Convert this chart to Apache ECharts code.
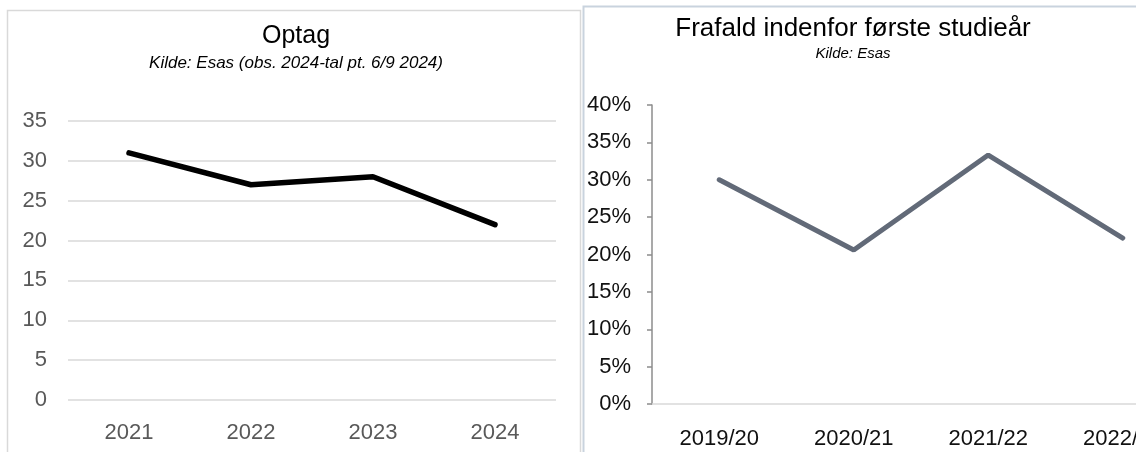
<!DOCTYPE html>
<html>
<head>
<meta charset="utf-8">
<script src="https://cdn.jsdelivr.net/npm/echarts@6/dist/echarts.min.js"></script>
<style>
  html, body { margin: 0; padding: 0; background: #fff; overflow: hidden; }
  /* wider than the window: the right chart is cut off at the edge, as in the source */
  #chart { width: 1240px; height: 452px; }
</style>
</head>
<body>
<div id="chart"></div>
<script>
const optagYears = ['2021', '2022', '2023', '2024']
const optagValues = [31, 27, 28, 22]
const frafaldYears = ['2019/20', '2020/21', '2021/22', '2022/23']
const frafaldValues = [30.0, 20.6, 33.3, 22.2]

const font = 'Liberation Sans, Arial, sans-serif'
const chart = echarts.init(document.getElementById('chart'))

const option = {
  animation: false,
  backgroundColor: '#fff',
  title: [
    {
      text: 'Optag',
      subtext: 'Kilde: Esas (obs. 2024-tal pt. 6/9 2024)',
      left: 296,
      top: 22,
      textAlign: 'center',
      itemGap: 4,
      padding: 0,
      textStyle: { fontFamily: font, fontSize: 25, fontWeight: 'normal', color: '#000', lineHeight: 28 },
      subtextStyle: { fontFamily: font, fontSize: 17, fontStyle: 'italic', color: '#000', lineHeight: 18 }
    },
    {
      text: 'Frafald indenfor første studieår',
      subtext: 'Kilde: Esas',
      left: 853,
      top: 15,
      textAlign: 'center',
      itemGap: 2,
      padding: 0,
      textStyle: { fontFamily: font, fontSize: 26, fontWeight: 'normal', color: '#000', lineHeight: 28 },
      subtextStyle: { fontFamily: font, fontSize: 15, fontStyle: 'italic', color: '#000', lineHeight: 17 }
    }
  ],
  graphic: [
    {
      type: 'rect',
      shape: { x: 7.5, y: 10.5, width: 573, height: 500 },
      style: { fill: 'none', stroke: '#d9d9d9', lineWidth: 1.5 },
      silent: true
    },
    {
      type: 'rect',
      shape: { x: 583.5, y: 6.5, width: 640, height: 500 },
      style: { fill: 'none', stroke: '#c9d3de', lineWidth: 2 },
      silent: true
    }
  ],
  grid: [
    { left: 68, top: 121, width: 488, height: 279 },
    { left: 652, top: 105, width: 538, height: 299 }
  ],
  xAxis: [
    {
      type: 'category',
      gridIndex: 0,
      data: optagYears,
      boundaryGap: true,
      axisLine: { show: false },
      axisTick: { show: false },
      axisLabel: { fontFamily: font, fontSize: 22, color: '#595959', margin: 22 }
    },
    {
      type: 'category',
      gridIndex: 1,
      data: frafaldYears,
      boundaryGap: true,
      axisLine: { show: true, lineStyle: { color: '#d9d9d9', width: 1.5 } },
      axisTick: { show: false },
      axisLabel: { fontFamily: font, fontSize: 22, color: '#111', margin: 24 }
    }
  ],
  yAxis: [
    {
      type: 'value',
      gridIndex: 0,
      min: 0,
      max: 35,
      interval: 5,
      axisLine: { show: false },
      axisTick: { show: false },
      splitLine: { show: true, lineStyle: { color: '#d9d9d9', width: 1.5 } },
      axisLabel: { fontFamily: font, fontSize: 22, color: '#595959', margin: 21 }
    },
    {
      type: 'value',
      gridIndex: 1,
      min: 0,
      max: 40,
      interval: 5,
      axisLine: { show: true, lineStyle: { color: '#8c8c8c', width: 1.5 } },
      axisTick: { show: true, length: 5, lineStyle: { color: '#8c8c8c', width: 1.5 } },
      splitLine: { show: false },
      axisLabel: { fontFamily: font, fontSize: 22, color: '#111', margin: 21, formatter: '{value}%' }
    }
  ],
  series: [
    {
      name: 'Optag',
      type: 'line',
      xAxisIndex: 0,
      yAxisIndex: 0,
      data: optagValues,
      showSymbol: false,
      lineStyle: { color: '#000', width: 5.5, cap: 'round' }
    },
    {
      name: 'Frafald',
      type: 'line',
      xAxisIndex: 1,
      yAxisIndex: 1,
      data: frafaldValues,
      showSymbol: false,
      lineStyle: { color: '#626a78', width: 5, cap: 'round' }
    }
  ]
}

chart.setOption(option)
</script>
</body>
</html>
